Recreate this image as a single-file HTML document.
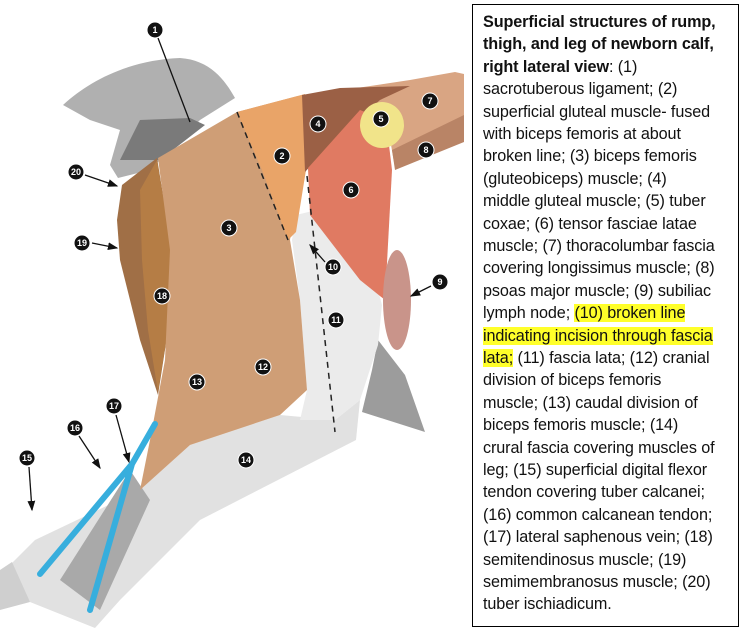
<!DOCTYPE html>
<html><head><meta charset="utf-8"><style>
html,body{margin:0;padding:0;background:#fff;width:744px;height:634px;overflow:hidden;position:relative}
#box{position:absolute;left:472px;top:4px;width:267px;height:623px;border:1.5px solid #000;box-sizing:border-box}
.t{position:absolute;left:483px;font-family:"Liberation Sans",sans-serif;font-size:16.2px;color:#111;white-space:nowrap;line-height:20px;letter-spacing:-0.1px}
.h{background:#ffff2a}
svg{position:absolute;left:0;top:0}
</style></head><body>
<svg width="470" height="634" viewBox="0 0 470 634">
<defs><marker id="a" markerWidth="8" markerHeight="8" refX="7" refY="4" orient="auto"><path d="M0,1 L8,4 L0,7 z" fill="#111"/></marker></defs>
<path d="M63,105 C90,80 130,60 180,58 C210,60 225,80 235,98 L200,120 L150,170 L118,178 L110,165 L120,130 L90,120 Z" fill="#b0b0b0"/>
<path d="M120,160 L140,120 L190,118 L205,125 L160,160 Z" fill="#7a7a7a"/>
<path d="M330,92 L410,80 L455,72 L464,74 L464,140 L395,168 L385,110 Z" fill="#d9a583"/>
<path d="M392,150 L464,115 L464,142 L395,170 Z" fill="#b98466"/>
<path d="M140,490 L190,445 L280,415 L335,420 L360,400 L356,440 L200,520 L120,600 L95,628 L30,602 L10,565 L35,540 Z" fill="#e1e1e1"/>
<path d="M60,580 L130,470 L150,500 L100,610 Z" fill="#a9a9a9"/>
<path d="M0,570 L12,562 L30,602 L0,610 Z" fill="#cfcfcf"/>
<path d="M378,340 L405,375 L425,432 L362,412 L372,370 Z" fill="#9c9c9c"/>
<path d="M296,215 L325,208 L372,268 L382,305 L378,345 L360,400 L335,420 L300,420 L307,390 L300,300 L292,240 Z" fill="#ebebeb"/>
<path d="M122,185 L157,158 L172,250 L168,330 L158,395 L140,340 L120,260 L117,220 Z" fill="#a06f46"/>
<path d="M140,190 L157,160 L172,250 L168,330 L158,392 L148,330 L142,260 Z" fill="#b57d45"/>
<path d="M158,158 L237,112 L298,96 L300,150 L290,240 L300,300 L307,390 L280,415 L190,445 L140,490 L150,440 L165,360 L170,250 Z" fill="#cf9e76"/>
<path d="M237,112 L305,94 L306,170 L296,232 L288,240 L262,170 Z" fill="#e9a468"/>
<path d="M302,95 L340,88 L410,86 L380,100 L325,150 L305,172 Z" fill="#9b6045"/>
<path d="M308,168 L360,110 L386,120 L392,170 L385,300 L360,280 L310,215 Z" fill="#e07a62"/>
<ellipse cx="382" cy="125" rx="22" ry="23" fill="#f1e48a"/>
<ellipse cx="397" cy="300" rx="14" ry="50" fill="#c9948a"/>
<path d="M155,424 L132,464 L40,574 M132,464 L90,610" stroke="#37aedd" stroke-width="6" fill="none" stroke-linecap="round"/>
<path d="M237,112 L288,240" stroke="#222" stroke-width="1.5" stroke-dasharray="6,5" fill="none"/>
<path d="M307,176 L335,432" stroke="#222" stroke-width="1.5" stroke-dasharray="6,5" fill="none"/>
<g stroke="#111" stroke-width="1.3" fill="none">
<path d="M158,38 L190,122"/>
<path d="M85,175 L117,186" marker-end="url(#a)"/>
<path d="M92,243 L117,248" marker-end="url(#a)"/>
<path d="M325,262 L310,245" marker-end="url(#a)"/>
<path d="M431,286 L411,296" marker-end="url(#a)"/>
<path d="M116,415 L129,462" marker-end="url(#a)"/>
<path d="M79,436 L100,468" marker-end="url(#a)"/>
<path d="M29,467 L32,510" marker-end="url(#a)"/>
</g>
<g font-family="Liberation Sans,sans-serif" font-size="9" font-weight="bold" fill="#fff" text-anchor="middle">
<g fill="#111" stroke="#fff" stroke-width="1">
<circle cx="155" cy="30" r="8"/><circle cx="282" cy="156" r="8"/><circle cx="229" cy="228" r="8"/><circle cx="318" cy="124" r="8"/><circle cx="381" cy="119" r="8"/><circle cx="351" cy="190" r="8"/><circle cx="430" cy="101" r="8"/><circle cx="426" cy="150" r="8"/><circle cx="440" cy="282" r="8"/><circle cx="333" cy="267" r="8"/><circle cx="336" cy="320" r="8"/><circle cx="263" cy="367" r="8"/><circle cx="197" cy="382" r="8"/><circle cx="246" cy="460" r="8"/><circle cx="27" cy="458" r="8"/><circle cx="75" cy="428" r="8"/><circle cx="114" cy="406" r="8"/><circle cx="162" cy="296" r="8"/><circle cx="82" cy="243" r="8"/><circle cx="76" cy="172" r="8"/>
</g>
<text x="155" y="33">1</text><text x="282" y="159">2</text><text x="229" y="231">3</text><text x="318" y="127">4</text><text x="381" y="122">5</text><text x="351" y="193">6</text><text x="430" y="104">7</text><text x="426" y="153">8</text><text x="440" y="285">9</text><text x="333" y="270">10</text><text x="336" y="323">11</text><text x="263" y="370">12</text><text x="197" y="385">13</text><text x="246" y="463">14</text><text x="27" y="461">15</text><text x="75" y="431">16</text><text x="114" y="409">17</text><text x="162" y="299">18</text><text x="82" y="246">19</text><text x="76" y="175">20</text>
</g>
</svg>
<div id="box"></div>
<div class="t" style="top:12px"><b>Superficial structures of rump,</b></div>
<div class="t" style="top:34.4px"><b>thigh, and leg of newborn calf,</b></div>
<div class="t" style="top:56.8px"><b>right lateral view</b>: (1)</div>
<div class="t" style="top:79.2px">sacrotuberous ligament; (2)</div>
<div class="t" style="top:101.6px">superficial gluteal muscle- fused</div>
<div class="t" style="top:124px">with biceps femoris at about</div>
<div class="t" style="top:146.4px">broken line; (3) biceps femoris</div>
<div class="t" style="top:168.8px">(gluteobiceps) muscle; (4)</div>
<div class="t" style="top:191.2px">middle gluteal muscle; (5) tuber</div>
<div class="t" style="top:213.6px">coxae; (6) tensor fasciae latae</div>
<div class="t" style="top:236px">muscle; (7) thoracolumbar fascia</div>
<div class="t" style="top:258.4px">covering longissimus muscle; (8)</div>
<div class="t" style="top:280.8px">psoas major muscle; (9) subiliac</div>
<div class="t" style="top:303.2px">lymph node; <span class="h">(10) broken line</span></div>
<div class="t" style="top:325.6px"><span class="h">indicating incision through fascia</span></div>
<div class="t" style="top:348px"><span class="h">lata;</span> (11) fascia lata; (12) cranial</div>
<div class="t" style="top:370.4px">division of biceps femoris</div>
<div class="t" style="top:392.8px">muscle; (13) caudal division of</div>
<div class="t" style="top:415.2px">biceps femoris muscle; (14)</div>
<div class="t" style="top:437.6px">crural fascia covering muscles of</div>
<div class="t" style="top:460px">leg; (15) superficial digital flexor</div>
<div class="t" style="top:482.4px">tendon covering tuber calcanei;</div>
<div class="t" style="top:504.8px">(16) common calcanean tendon;</div>
<div class="t" style="top:527.2px">(17) lateral saphenous vein; (18)</div>
<div class="t" style="top:549.6px">semitendinosus muscle; (19)</div>
<div class="t" style="top:572px">semimembranosus muscle; (20)</div>
<div class="t" style="top:594.4px">tuber ischiadicum.</div>
</body></html>
